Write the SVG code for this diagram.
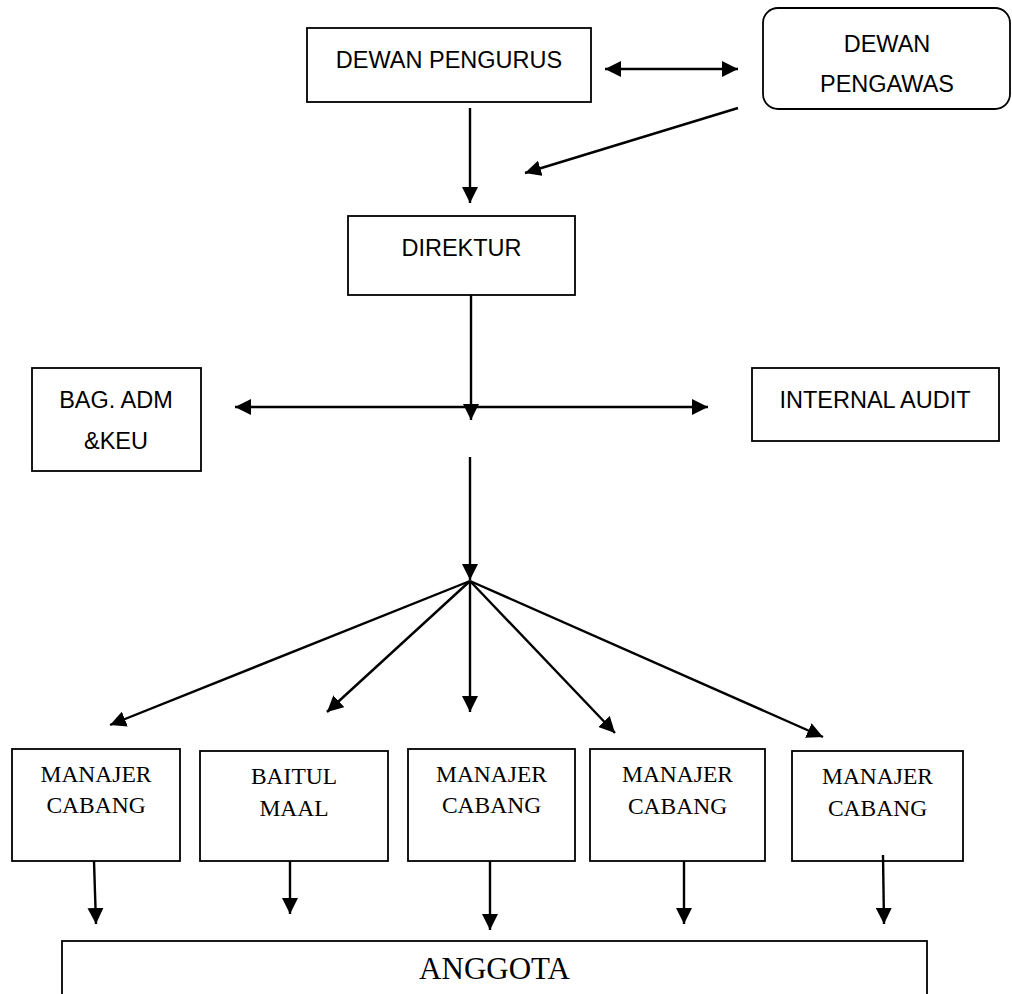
<svg xmlns="http://www.w3.org/2000/svg" width="1012" height="994" viewBox="0 0 1012 994">
<style>
.box{fill:#fff;stroke:#000;stroke-width:1.8}
.sans{font-family:"Liberation Sans",Arial,sans-serif;font-size:23.5px;fill:#000;text-anchor:middle}
.serif{font-family:"Liberation Serif","Times New Roman",serif;font-size:23.5px;fill:#000;text-anchor:middle}
.big{font-family:"Liberation Serif","Times New Roman",serif;font-size:31px;fill:#000;text-anchor:middle}
.c{fill:none;stroke:#000;stroke-width:2.4;marker-end:url(#ah)}
.d{fill:none;stroke:#000;stroke-width:2.4;marker-start:url(#ah);marker-end:url(#ah)}
</style>
<defs>
<marker id="ah" markerUnits="userSpaceOnUse" viewBox="0 0 16 16" markerWidth="16" markerHeight="16" refX="16" refY="8" orient="auto-start-reverse">
<path d="M0,0 L16,8 L0,16 z" fill="#000"/>
</marker>
</defs>
<rect width="1012" height="994" fill="#fff"/>
<g id="dewan-pengurus"><rect class="box" x="307" y="28" width="284" height="74"/><text class="sans" x="449" y="68">DEWAN PENGURUS</text></g>
<g id="dewan-pengawas"><rect class="box" x="763" y="8" width="247" height="101" rx="15"/><text class="sans" x="887" y="52">DEWAN</text><text class="sans" x="887" y="92">PENGAWAS</text></g>
<g id="direktur"><rect class="box" x="348" y="216" width="227" height="79"/><text class="sans" x="461.5" y="256">DIREKTUR</text></g>
<g id="bag-adm"><rect class="box" x="32" y="368" width="169" height="103"/><text class="sans" x="116" y="408">BAG. ADM</text><text class="sans" x="116" y="449">&amp;KEU</text></g>
<g id="internal-audit"><rect class="box" x="752" y="368" width="247" height="73"/><text class="sans" x="875" y="408">INTERNAL AUDIT</text></g>
<g id="manajer-1"><rect class="box" x="12" y="749" width="168" height="112"/><text class="serif" x="96" y="782">MANAJER</text><text class="serif" x="96" y="813">CABANG</text></g>
<g id="baitul-maal"><rect class="box" x="200" y="751" width="188" height="110"/><text class="serif" x="294" y="784">BAITUL</text><text class="serif" x="294" y="816">MAAL</text></g>
<g id="manajer-2"><rect class="box" x="408" y="749" width="167" height="112"/><text class="serif" x="491.5" y="782">MANAJER</text><text class="serif" x="491.5" y="813">CABANG</text></g>
<g id="manajer-3"><rect class="box" x="590" y="749" width="175" height="112"/><text class="serif" x="677.5" y="782">MANAJER</text><text class="serif" x="677.5" y="814">CABANG</text></g>
<g id="manajer-4"><rect class="box" x="792" y="751" width="171" height="110"/><text class="serif" x="877.5" y="784">MANAJER</text><text class="serif" x="877.5" y="816">CABANG</text></g>
<g id="anggota"><rect class="box" x="62" y="941" width="865" height="80"/><text class="big" x="494.5" y="979">ANGGOTA</text></g>
<g id="connectors">
<line class="d" x1="605" y1="69" x2="738" y2="69"/>
<line class="c" x1="470" y1="108" x2="470" y2="203"/>
<line class="c" x1="738" y1="108" x2="525" y2="173"/>
<line class="c" x1="471" y1="295" x2="471" y2="420"/>
<line class="d" x1="235" y1="407" x2="708" y2="407"/>
<line class="c" x1="470" y1="457" x2="470" y2="580"/>
<line class="c" x1="470" y1="581" x2="110" y2="725"/>
<line class="c" x1="470" y1="581" x2="327" y2="712"/>
<line class="c" x1="470" y1="581" x2="470" y2="712"/>
<line class="c" x1="470" y1="581" x2="615" y2="733"/>
<line class="c" x1="470" y1="581" x2="823" y2="737"/>
<line class="c" x1="94" y1="861" x2="96" y2="924"/>
<line class="c" x1="290" y1="861" x2="290" y2="914"/>
<line class="c" x1="490" y1="861" x2="490" y2="930"/>
<line class="c" x1="684" y1="861" x2="684" y2="924"/>
<line class="c" x1="883" y1="855" x2="884" y2="924"/>
</g>
</svg>
